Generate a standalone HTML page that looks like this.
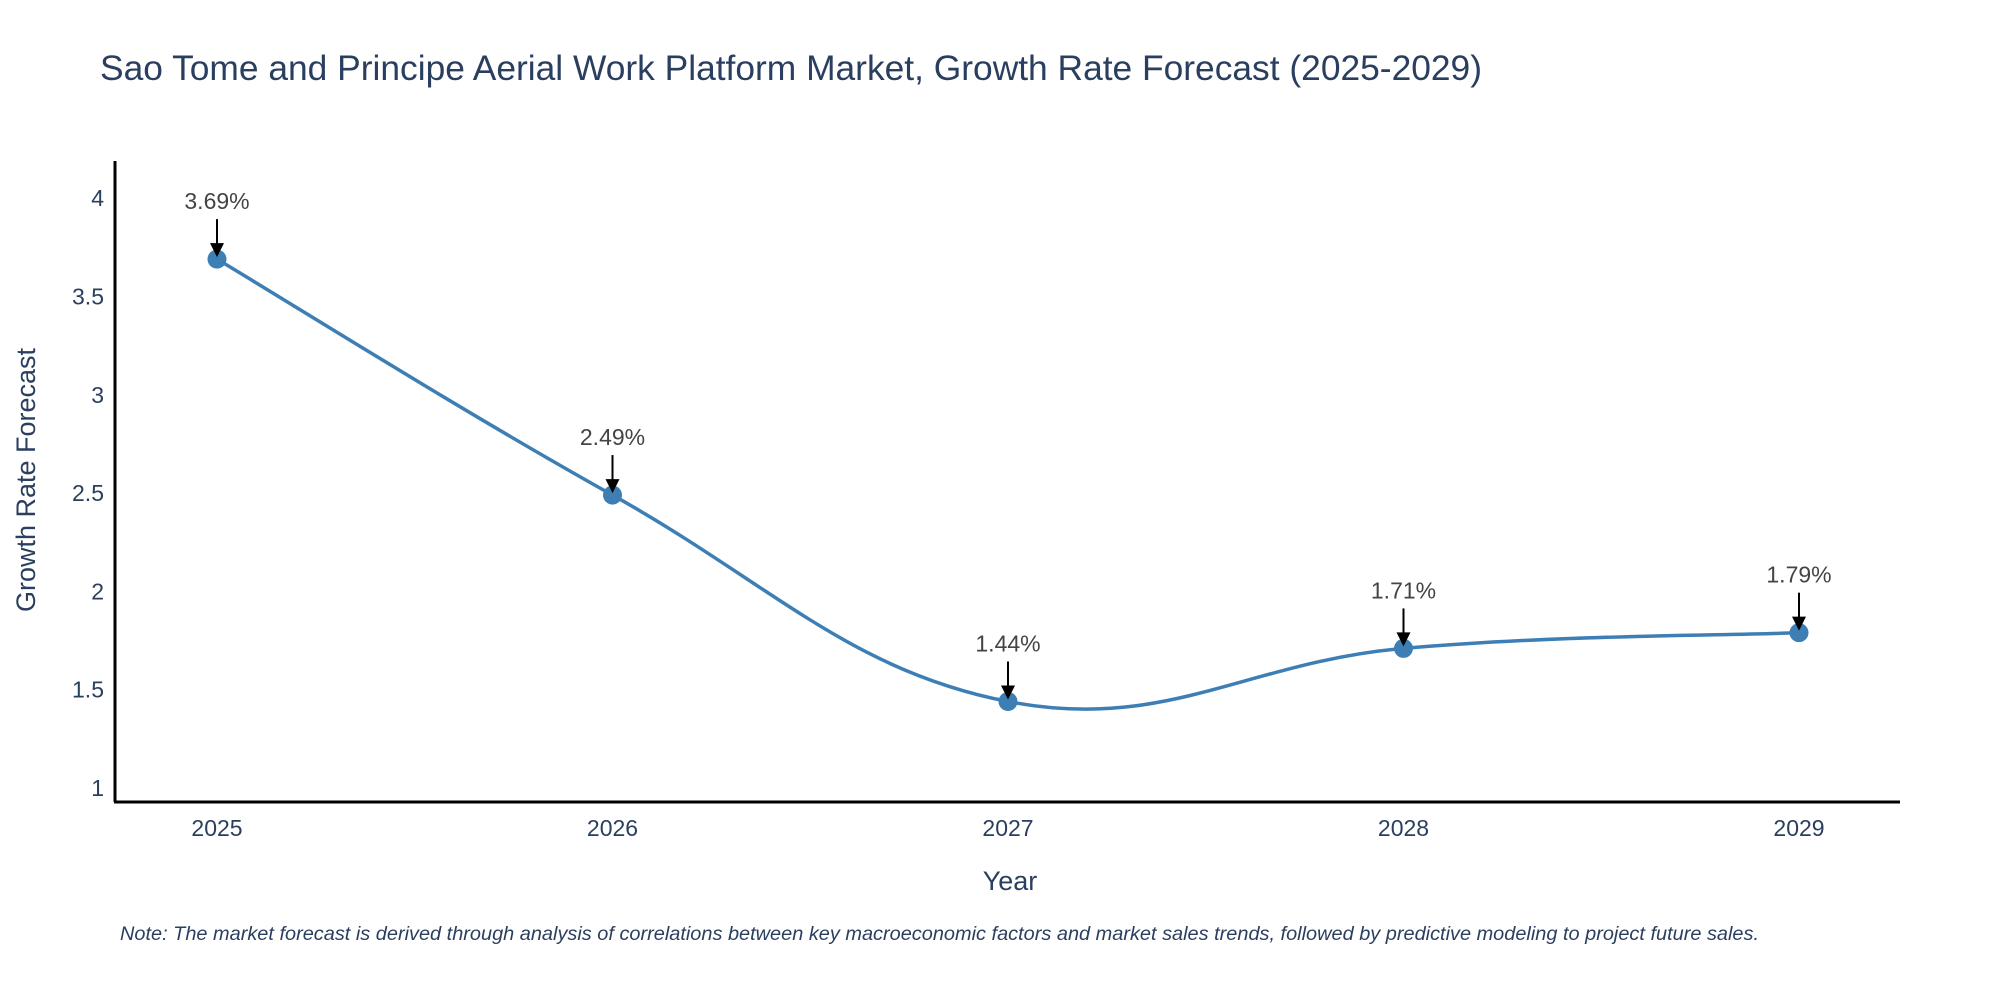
<!DOCTYPE html>
<html><head><meta charset="utf-8"><style>
html,body{margin:0;padding:0;background:#fff;}
svg{display:block;font-family:"Liberation Sans",sans-serif;}
</style></head><body>
<svg width="2000" height="1000" viewBox="0 0 2000 1000">
<text x="100" y="80" font-size="35" fill="#2a3f5f" textLength="1382" lengthAdjust="spacingAndGlyphs">Sao Tome and Principe Aerial Work Platform Market, Growth Rate Forecast (2025-2029)</text>
<g id="yticks"></g><g id="xticks"></g>
<line x1="115" y1="161" x2="115" y2="802" stroke="#000" stroke-width="3"/>
<line x1="114" y1="802" x2="1900" y2="802" stroke="#000" stroke-width="3"/>
<path id="line" fill="none" stroke="#3d7fb5" stroke-width="3.5"/>
<g id="marks"></g>
<text x="1010" y="890" font-size="27" fill="#2a3f5f" text-anchor="middle">Year</text>
<text transform="translate(35,480) rotate(-90)" font-size="27" fill="#2a3f5f" text-anchor="middle">Growth Rate Forecast</text>
<text x="120" y="940" font-size="19" font-style="italic" fill="#2a3f5f" textLength="1639" lengthAdjust="spacingAndGlyphs">Note: The market forecast is derived through analysis of correlations between key macroeconomic factors and market sales trends, followed by predictive modeling to project future sales.</text>
</svg>
<script>
const years=[2025,2026,2027,2028,2029];
const values=[3.69,2.49,1.44,1.71,1.79];
const labels=["3.69%","2.49%","1.44%","1.71%","1.79%"];
const yTicks=[1,1.5,2,2.5,3,3.5,4];
const yTickLabels=["1","1.5","2","2.5","3","3.5","4"];
const NS="http://www.w3.org/2000/svg";
const xs=y=>217+(y-2025)*395.5;
const ys=v=>788-(v-1)*196.6;
function mk(tag,attrs,parent,text){const e=document.createElementNS(NS,tag);for(const k in attrs)e.setAttribute(k,attrs[k]);if(text!==undefined)e.textContent=text;parent.appendChild(e);return e;}
const yt=document.getElementById('yticks');
yTicks.forEach((t,i)=>{const e=mk('text',{x:104,y:ys(t)+8,'font-size':23,fill:'#2a3f5f','text-anchor':'end'},yt,yTickLabels[i]);

});
const xt=document.getElementById('xticks');
years.forEach(y=>{const e=mk('text',{x:xs(y),y:836,'font-size':23,fill:'#2a3f5f','text-anchor':'middle'},xt,String(y));

});
const P=years.map((y,i)=>[xs(y),ys(values[i])]);
let d=`M${P[0][0]},${P[0][1]}`;const s=0.2;
for(let i=0;i<P.length-1;i++){const p0=P[Math.max(0,i-1)],p1=P[i],p2=P[i+1],p3=P[Math.min(P.length-1,i+2)];
const c1=[p1[0]+(p2[0]-p0[0])*s,p1[1]+(p2[1]-p0[1])*s],c2=[p2[0]-(p3[0]-p1[0])*s,p2[1]-(p3[1]-p1[1])*s];
d+=` C${c1[0]},${c1[1]} ${c2[0]},${c2[1]} ${p2[0]},${p2[1]}`;}
document.getElementById('line').setAttribute('d',d);
const g=document.getElementById('marks');
P.forEach((p,i)=>{const c=mk('circle',{cx:p[0],cy:p[1],r:9.5,fill:'#3d7fb5'},g);


const a=mk('line',{x1:p[0],y1:p[1]-40,x2:p[0],y2:p[1]-14,stroke:'#000','stroke-width':2},g);


const h=mk('polygon',{points:`${p[0]-7},${p[1]-16} ${p[0]+7},${p[1]-16} ${p[0]},${p[1]-2}`,fill:'#000'},g);


const t=mk('text',{x:p[0],y:p[1]-50,'font-size':23,fill:'#444','text-anchor':'middle'},g,labels[i]);

});
</script>
</body></html>
